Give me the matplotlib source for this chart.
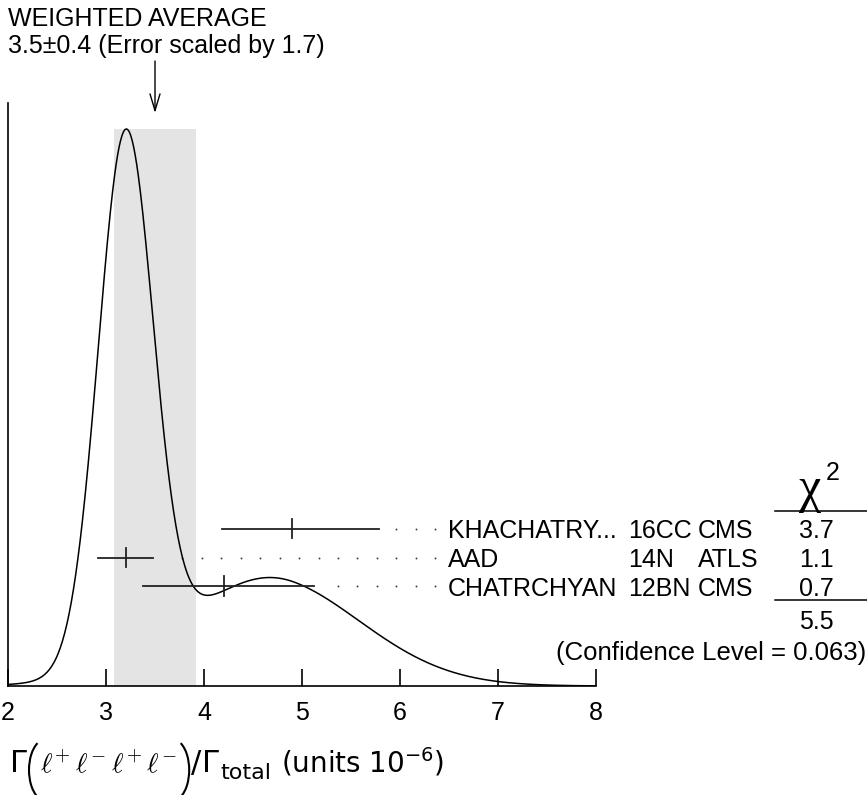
import numpy as np
import matplotlib
matplotlib.use("Agg")
import matplotlib.pyplot as plt
from matplotlib.patches import Arc
from matplotlib.transforms import IdentityTransform

plt.rcParams['font.family'] = ['Liberation Sans', 'DejaVu Sans']
plt.rcParams['mathtext.fontset'] = 'dejavusans'

# measurements (value, lower error, upper error)
names = ["KHACHATRY...", "AAD", "CHATRCHYAN"]
refs = ["16CC", "14N", "12BN"]
expts = ["CMS", "ATLS", "CMS"]
values = [4.9, 3.2, 4.2]
err_lo = [0.72, 0.28, 0.82]
err_hi = [0.89, 0.28, 0.92]
chi2 = ["3.7", "1.1", "0.7"]
chi2_total = "5.5"
conf_level = "0.063"
avg = 3.5
avg_err = 0.42
scale_factor = 1.7

# ideogram: each measurement a gaussian with area ~ 1/sigma
x = np.linspace(2, 8, 800)
curve = np.zeros_like(x)
for v, lo, hi in zip(values, err_lo, err_hi):
    sbar = 0.5*(lo+hi)
    s = np.where(x < v, lo, hi)
    curve += np.exp(-0.5*((x-v)/s)**2)/sbar**2
curve = curve/curve.max()

W, H = 867, 795
FS = 18
fig = plt.figure(figsize=(W/100, H/100), dpi=100)
ax = fig.add_axes([8/W, (H-686)/H, 588/W, 583/H])
ax.set_xlim(2, 8)
ax.set_ylim(0, 583/557)

ax.axvspan(avg-avg_err, avg+avg_err, ymin=0, ymax=557/583, color='#e4e4e4', lw=0, zorder=0)
ax.plot(x, curve, color='black', lw=1.1, zorder=3)

row_y = [0.2824, 0.2307, 0.1795]
dot_x = 3.779 + 0.1985*np.arange(14)
for i in range(3):
    y = row_y[i]
    ax.plot([values[i]-err_lo[i], values[i]+err_hi[i]], [y, y], color='#222222', lw=1.3, zorder=4)
    ax.plot([values[i], values[i]], [y-0.0175, y+0.0175], color='#222222', lw=1.3, zorder=4)
    dx = dot_x[dot_x > values[i]+err_hi[i]+0.1]
    ax.plot(dx, [y]*len(dx), ls='none', marker='o', ms=1.4, mec='none', mfc='#444444', clip_on=False)
    ax.text(6.49, y, names[i], fontsize=FS, ha='left', va='center_baseline', clip_on=False)
    ax.text(8.327, y, refs[i], fontsize=FS, ha='left', va='center_baseline', clip_on=False)
    ax.text(9.04, y, expts[i], fontsize=FS, ha='left', va='center_baseline', clip_on=False)
    ax.text(10.25, y, chi2[i], fontsize=FS, ha='center', va='center_baseline', clip_on=False)

ax.text(10.18, 0.330, '\u03c7', fontsize=36, ha='center', va='baseline',
        family=['Liberation Serif', 'DejaVu Serif'], clip_on=False)
ax.text(10.42, 0.386, '2', fontsize=FS, ha='center', va='center_baseline', clip_on=False)
ax.plot([9.83, 10.77], [0.3142, 0.3142], color='black', lw=1.1, clip_on=False)
ax.plot([9.83, 10.77], [0.1544, 0.1544], color='black', lw=1.1, clip_on=False)
ax.text(10.25, 0.1185, chi2_total, fontsize=FS, ha='center', va='center_baseline', clip_on=False)
ax.text(10.755, 0.0646, "(Confidence Level = " + conf_level + ")", fontsize=18.5,
        ha='right', va='center_baseline', clip_on=False)

ax.annotate('', xy=(avg, 573/583), xytext=(avg, 625/583),
            xycoords=ax.get_xaxis_transform(), textcoords=ax.get_xaxis_transform(),
            arrowprops=dict(arrowstyle='->,head_length=1.2,head_width=0.36', lw=1.0,
                            color='black', mutation_scale=10, shrinkA=0, shrinkB=0))

for s in ['top', 'right']:
    ax.spines[s].set_visible(False)
ax.spines['left'].set_linewidth(1.2)
ax.spines['bottom'].set_linewidth(1.2)
ax.set_yticks([])
ax.set_xticks([2, 3, 4, 5, 6, 7, 8])
ax.set_xticklabels(['2', '3', '4', '5', '6', '7', '8'], fontsize=FS)
ax.tick_params(axis='x', direction='in', length=12, width=1.2, pad=11)

fig.text(8/W, 1-17/H, "WEIGHTED AVERAGE", fontsize=FS, ha='left', va='center_baseline')
fig.text(8/W, 1-43/H, "%.1f\u00b1%.1f (Error scaled by %.1f)" % (avg, 0.4, scale_factor),
         fontsize=FS, ha='left', va='center_baseline')

# x-axis label, built from pieces placed one after another; the tall brackets are arcs
renderer = fig.canvas.get_renderer()
LS = 22
base_y = 772
par_y = 770
rx, ry = 17, 31


def geo(t):
    # Arc wants geometric angles; convert from the ellipse parameter
    t = np.radians(t)
    return np.degrees(np.arctan2(ry*np.sin(t), rx*np.cos(t)))


def paren(xleft, side):
    depth = rx*(1 - np.cos(np.radians(60)))
    if side == 'l':
        cx, t1, t2 = xleft + rx, geo(120), geo(240) + 360
    else:
        cx, t1, t2 = xleft + depth - rx, geo(-60), geo(60)
    a = Arc((cx, H - par_y), 2*rx, 2*ry, theta1=t1, theta2=t2, lw=1.5, color='black',
            transform=IdentityTransform())
    fig.add_artist(a)
    return xleft + depth


def piece(xleft, txt, drop=0, **kw):
    t = fig.text(xleft/W, 1-(base_y+drop)/H, txt, ha='left', va='baseline', **kw)
    return t.get_window_extent(renderer).x1


xpos = piece(10, '\u0393', fontsize=LS, family='DejaVu Sans')
xpos = paren(xpos + 2, 'l')
xpos = piece(xpos + 3, r'$\ell^{+}\,\ell^{-}\,\ell^{+}\,\ell^{-}$', fontsize=20, math_fontfamily='cm')
xpos = paren(xpos + 3, 'r')
xpos = piece(xpos + 2, '/', fontsize=LS, family='DejaVu Sans')
xpos = piece(xpos + 1, '\u0393', fontsize=LS, family='DejaVu Sans')
xpos = piece(xpos + 1, 'total', drop=7, fontsize=16, family='DejaVu Sans')
xpos = piece(xpos + 10, r'(units $10^{-6}$)', fontsize=20, family='DejaVu Sans',
             math_fontfamily='dejavusans')

fig.savefig("out.png", dpi=100)
